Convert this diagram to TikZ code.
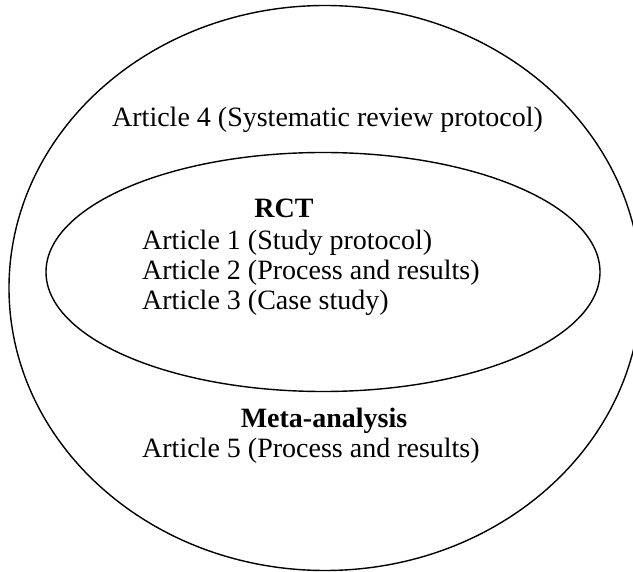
\documentclass[tikz,border=0pt]{standalone}
\usepackage{fontspec}
\setmainfont{Liberation Serif}
\begin{document}
\begin{tikzpicture}[x=1pt,y=-1pt,
  txt/.style={inner sep=0pt,anchor=base west,font=\fontsize{28}{30}\selectfont},
  hd/.style={inner sep=0pt,anchor=base,font=\fontsize{28}{30}\selectfont\bfseries},
  ring/.style={draw=black,line width=1.4pt}]
\useasboundingbox (0,0) rectangle (633,572);
\begin{scope}
\clip (0,0) rectangle (633,572);
\draw[ring] (325,288) ellipse [x radius=316, y radius=282.5];
\end{scope}
\draw[ring] (323,272) ellipse [x radius=277, y radius=119.5];
\node[txt] (a4) at (112,127) {Article 4 (Systematic review protocol)};
\node[hd] (rct) at (284,218) {RCT};
\node[txt] (a1) at (142,250) {Article 1 (Study protocol)};
\node[txt] (a2) at (142,280) {Article 2 (Process and results)};
\node[txt] (a3) at (142,310) {Article 3 (Case study)};
\node[hd] (meta) at (324,428) {Meta-analysis};
\node[txt] (a5) at (142,458) {Article 5 (Process and results)};
\end{tikzpicture}
\end{document}
